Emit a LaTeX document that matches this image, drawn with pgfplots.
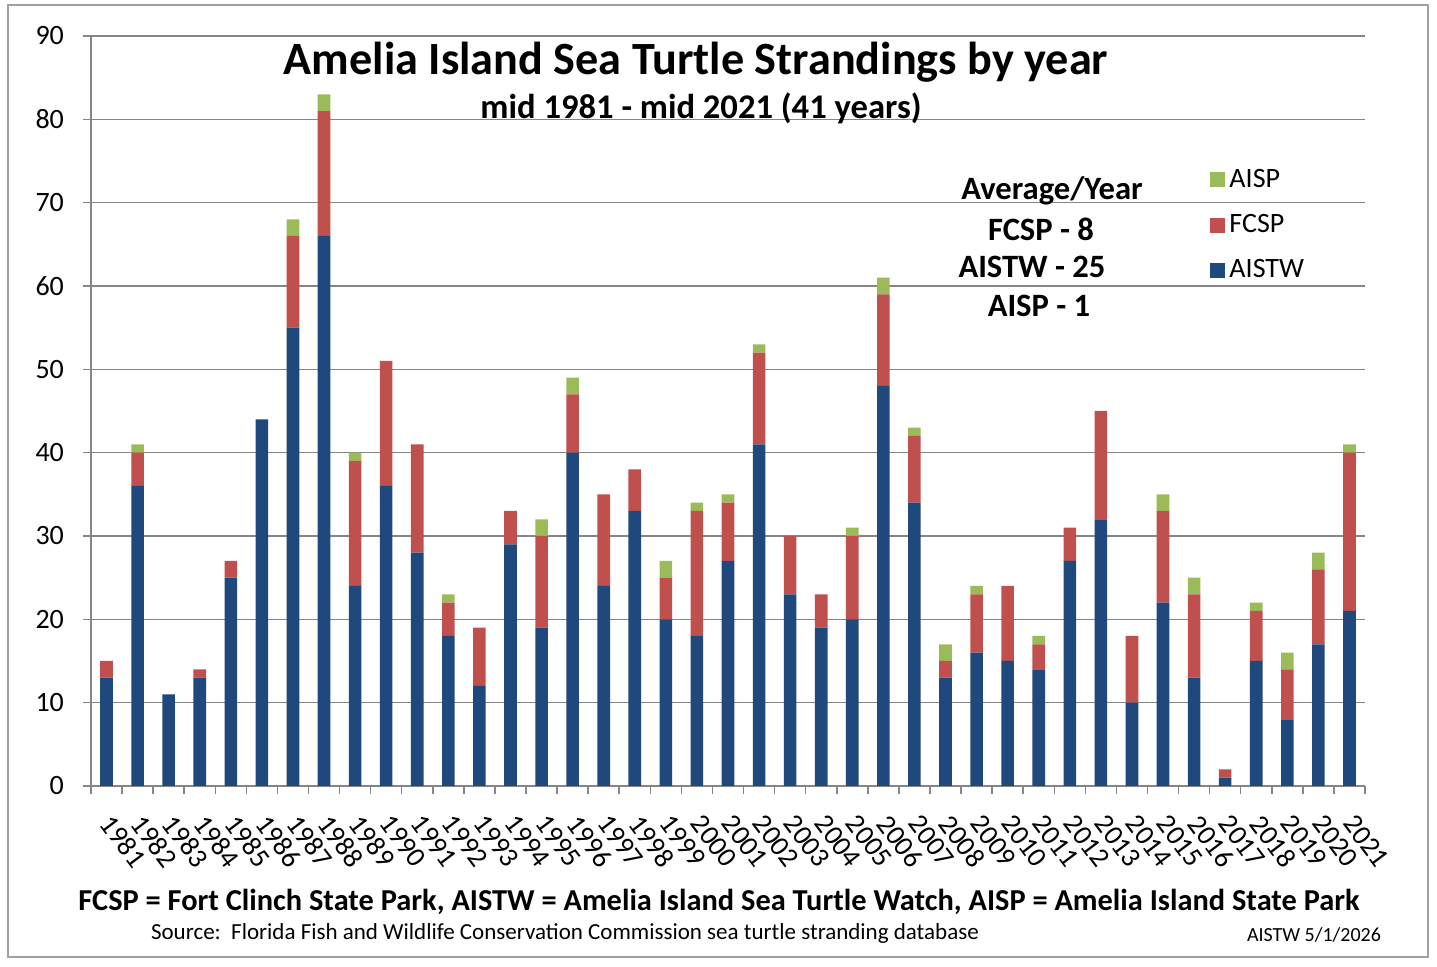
\documentclass[border=0pt]{standalone}
\usepackage{fontspec}
\setmainfont{Carlito}
\usepackage{pgfplots}
\usepackage{pgfplotstable}
\pgfplotsset{compat=1.18}
\definecolor{cblue}{RGB}{31,73,125}
\definecolor{cred}{RGB}{192,80,77}
\definecolor{cgreen}{RGB}{155,187,89}
\definecolor{cgrid}{RGB}{134,134,134}
\definecolor{cframe}{RGB}{160,160,160}

\pgfplotstableread{
x AISTW FCSP AISP
0 13 2 0
1 36 4 1
2 11 0 0
3 13 1 0
4 25 2 0
5 44 0 0
6 55 11 2
7 66 15 2
8 24 15 1
9 36 15 0
10 28 13 0
11 18 4 1
12 12 7 0
13 29 4 0
14 19 11 2
15 40 7 2
16 24 11 0
17 33 5 0
18 20 5 2
19 18 15 1
20 27 7 1
21 41 11 1
22 23 7 0
23 19 4 0
24 20 10 1
25 48 11 2
26 34 8 1
27 13 2 2
28 16 7 1
29 15 9 0
30 14 3 1
31 27 4 0
32 32 13 0
33 10 8 0
34 22 11 2
35 13 10 2
36 1 1 0
37 15 6 1
38 8 6 2
39 17 9 2
40 21 19 1
}\data

\begin{document}
\begin{tikzpicture}[x=1pt,y=1pt]
\path (-45.5,-90.5) rectangle (673,393);
\draw[cframe, line width=1pt] (-41.5,-85.5) rectangle (668.5,390.5);
\begin{axis}[
  at={(0,0)}, anchor=south west,
  scale only axis, width=637pt, height=375pt,
  ybar stacked, bar width=6.3pt,
  xmin=-0.5, xmax=40.5, ymin=0, ymax=90,
  enlargelimits=false,
  ytick={0,10,...,90},
  xtick={0,...,40},
  xticklabels={1981,1982,1983,1984,1985,1986,1987,1988,1989,1990,1991,1992,1993,1994,1995,1996,1997,1998,1999,2000,2001,2002,2003,2004,2005,2006,2007,2008,2009,2010,2011,2012,2013,2014,2015,2016,2017,2018,2019,2020,2021},
  minor xtick={-0.5,0.5,...,40.5},
  axis x line*=bottom, axis y line*=left,
  axis line style={cgrid, line width=0.75pt},
  tick align=outside,
  major tick length=4pt, minor tick length=4pt,
  xtick style={draw=none},
  minor x tick style={draw=cgrid, line width=0.75pt},
  ytick style={draw=cgrid, line width=0.75pt},
  ymajorgrids, grid style={cgrid, line width=0.75pt},
  /pgf/number format/assume math mode=true,
  tick label style={font=\fontsize{14}{16}\selectfont},
  yticklabel style={xshift=-6pt},
  xticklabel style={xshift=-2.2pt, yshift=-9.4pt, rotate=-53, anchor=west},
  reverse legend,
  legend image code/.code={\fill[#1] (-1.5pt,-3.75pt) rectangle (6pt,3.75pt);},
  legend style={at={(0.8784,0.828)}, anchor=north west, draw=none, fill=none,
    font=\fontsize{14}{16}\selectfont, row sep=8pt, cells={anchor=west},
    inner sep=0pt},
]
\addplot[fill=cblue, draw=none] table[x=x, y=AISTW] {\data};
\addplot[fill=cred, draw=none] table[x=x, y=FCSP] {\data};
\addplot[fill=cgreen, draw=none] table[x=x, y=AISP] {\data};
\legend{AISTW, FCSP, AISP}
\end{axis}
\node[font=\fontsize{23.1}{27}\selectfont\bfseries] at (302.5,362) {Amelia Island Sea Turtle Strandings by year};
\node[font=\fontsize{17.3}{20}\selectfont\bfseries] at (305,339) {mid 1981 - mid 2021 (41 years)};
\node[font=\fontsize{16.3}{19}\selectfont\bfseries] at (480.5,297.5) {Average/Year};
\node[font=\fontsize{16.3}{19}\selectfont\bfseries] at (475,278.5) {FCSP - 8};
\node[font=\fontsize{16.3}{19}\selectfont\bfseries] at (470.5,259.5) {AISTW - 25};
\node[font=\fontsize{16.3}{19}\selectfont\bfseries] at (474,240) {AISP - 1};
\node[font=\fontsize{15.2}{18}\selectfont\bfseries] at (314,-58) {FCSP = Fort Clinch State Park, AISTW = Amelia Island Sea Turtle Watch, AISP = Amelia Island State Park};
\node[font=\fontsize{11.5}{14}\selectfont] at (237,-74) {Source:\ \ Florida Fish and Wildlife Conservation Commission sea turtle stranding database};
\node[font=\fontsize{10}{12}\selectfont] at (611.5,-74.5) {AISTW 5/1/2026};
\end{tikzpicture}
\end{document}
